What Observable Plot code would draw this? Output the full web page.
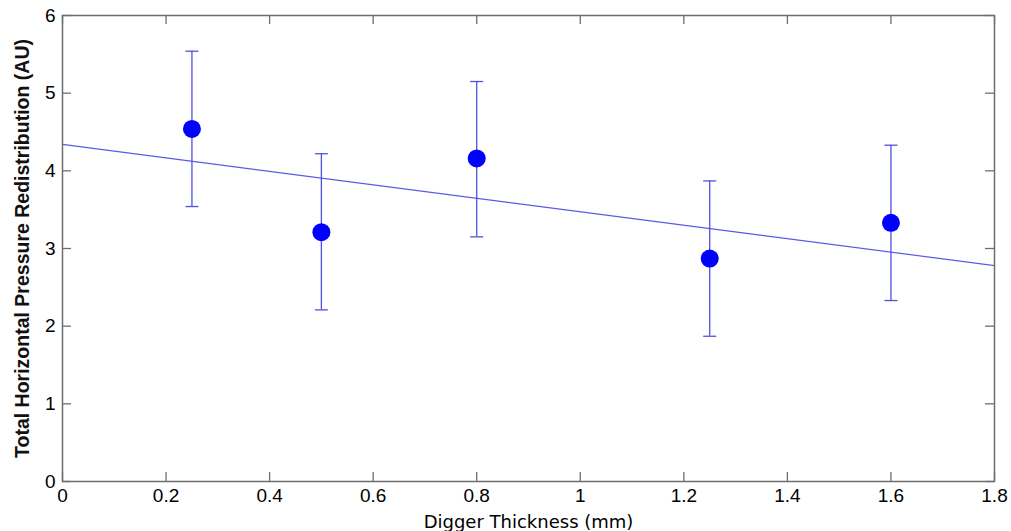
<!DOCTYPE html>
<html>
<head>
<meta charset="utf-8">
<script src="https://cdn.jsdelivr.net/npm/d3@7"></script>
<script src="https://cdn.jsdelivr.net/npm/@observablehq/plot@0.6"></script>
<style>
  html, body { margin: 0; padding: 0; background: #fff; }
</style>
</head>
<body>
<div id="chart"></div>
<script>
// Data
const thickness = [0.25, 0.5, 0.8, 1.25, 1.6];          // mm
const redistribution = [4.54, 3.21, 4.16, 2.87, 3.33];  // AU
const errLow = [3.54, 2.21, 3.15, 1.87, 2.33];
const errHigh = [5.54, 4.22, 5.15, 3.87, 4.33];
const fitX = [0, 1.8];
const fitY = [4.34, 2.78];
const xTicks = [0, 0.2, 0.4, 0.6, 0.8, 1, 1.2, 1.4, 1.6, 1.8];
const yTicks = [0, 1, 2, 3, 4, 5, 6];

const points = thickness.map((x, i) => ({x, y: redistribution[i], lo: errLow[i], hi: errHigh[i]}));
const fit = fitX.map((x, i) => ({x, y: fitY[i]}));

const W = 1011, H = 531;
const mL = 62, mR = 17, mT = 15, mB = 50;
const pw = W - mL - mR, ph = H - mT - mB;
const tk = 9;
const axisColor = "#6e6e6e";
const tickFont = "Liberation Sans, Arial, sans-serif";
const labelFont = "DejaVu Sans, Verdana, sans-serif";

// horizontal-line symbol for error bar caps
const capSymbol = {
  draw(context, size) {
    const r = Math.sqrt(size / Math.PI);
    context.moveTo(-r, 0);
    context.lineTo(r, 0);
  }
};

const chart = Plot.plot({
  width: W,
  height: H,
  marginLeft: mL,
  marginRight: mR,
  marginTop: mT,
  marginBottom: mB,
  style: {background: "#fff", overflow: "visible"},
  x: {type: "linear", domain: [0, 1.8]},
  y: {type: "linear", domain: [0, 6]},
  marks: [
    // inward ticks on all four sides
    Plot.ruleX(xTicks, {x: d => d, insetTop: ph - tk, stroke: axisColor, strokeWidth: 1.3}),
    Plot.ruleX(xTicks, {x: d => d, insetBottom: ph - tk, stroke: axisColor, strokeWidth: 1.3}),
    Plot.ruleY(yTicks, {y: d => d, insetRight: pw - tk, stroke: axisColor, strokeWidth: 1.3}),
    Plot.ruleY(yTicks, {y: d => d, insetLeft: pw - tk, stroke: axisColor, strokeWidth: 1.3}),
    // fit line
    Plot.line(fit, {x: "x", y: "y", stroke: "#5a5ae6", strokeWidth: 1.2}),
    // error bars
    Plot.ruleX(points, {x: "x", y1: "lo", y2: "hi", stroke: "#5050e0", strokeWidth: 1.3}),
    Plot.dot(points, {x: "x", y: "lo", symbol: capSymbol, r: 6.5, stroke: "#5050e0", strokeWidth: 1.3, fill: "none"}),
    Plot.dot(points, {x: "x", y: "hi", symbol: capSymbol, r: 6.5, stroke: "#5050e0", strokeWidth: 1.3, fill: "none"}),
    // markers
    Plot.dot(points, {x: "x", y: "y", r: 9, fill: "#0000ff", stroke: "none"}),
    Plot.frame({stroke: axisColor, strokeWidth: 1.5}),
    Plot.axisX({
      ticks: xTicks, tickSize: 0, tickPadding: 7, tickFormat: d => String(d),
      fontSize: 19, fontFamily: tickFont, fill: "#000",
      label: "Digger Thickness (mm)", labelAnchor: "center", labelArrow: "none",
      labelOffset: 46
    }),
    Plot.axisY({
      ticks: yTicks, tickSize: 0, tickPadding: 7, tickFormat: d => String(d),
      fontSize: 19, fontFamily: tickFont, fill: "#000",
      label: null
    }),
    Plot.text(["Total Horizontal Pressure Redistribution (AU)"], {
      frameAnchor: "left", textAnchor: "middle", dx: -40, rotate: -90, fontSize: 19.5,
      fontFamily: tickFont, fill: "#111", fontWeight: "bold"
    })
  ]
});

chart.querySelectorAll('[aria-label="x-axis label"] text').forEach(t => {
  t.setAttribute("font-family", labelFont);
  t.setAttribute("font-size", "18");
});
document.getElementById("chart").appendChild(chart);
</script>
</body>
</html>
